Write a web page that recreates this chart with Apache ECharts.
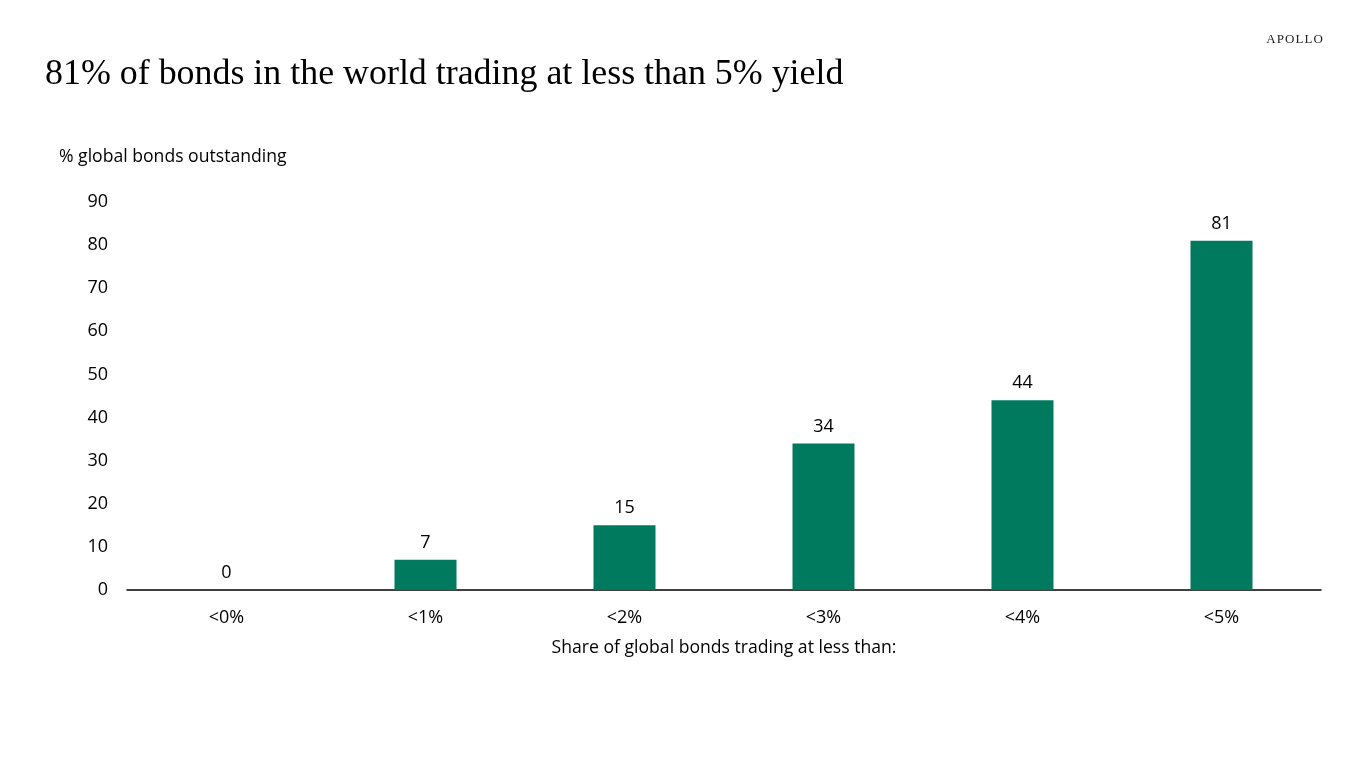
<!DOCTYPE html>
<html><head><meta charset="utf-8">
<script src="https://cdn.jsdelivr.net/npm/echarts@6/dist/echarts.min.js"></script>
<style>html,body{margin:0;padding:0;background:#fff}#c{width:1366px;height:768px}</style>
</head><body><div id="c"></div>
<script>
const categories = ['<0%', '<1%', '<2%', '<3%', '<4%', '<5%'];
const values = [0, 7, 15, 34, 44, 81];
const yTicks = { min: 0, max: 90, interval: 10 };

const chart = echarts.init(document.getElementById('c'), null, { renderer: 'canvas' });
const sans = '"Open Sans", "Noto Sans", sans-serif';
chart.setOption({
  backgroundColor: '#fff',
  animation: false,
  title: [
    { text: '81% of bonds in the world trading at less than 5% yield', left: 40, top: 52,
      textStyle: { fontFamily: '"Liberation Serif", serif', fontWeight: 'normal', fontSize: 35.9, color: '#000' } },
    { text: 'A\u200AP\u200AO\u200AL\u200AL\u200AO', right: 38, top: 28,
      textStyle: { fontFamily: '"Liberation Serif", serif', fontWeight: 'normal', fontSize: 13, color: '#222' } },
    { text: '% global bonds outstanding', left: 54, top: 143,
      textStyle: { fontFamily: sans, fontWeight: 'normal', fontSize: 17.6, color: '#000' } }
  ],
  grid: { left: 127, right: 45, top: 202, bottom: 178, containLabel: false },
  xAxis: {
    type: 'category', data: categories,
    name: 'Share of global bonds trading at less than:', nameLocation: 'middle', nameGap: 49,
    nameTextStyle: { fontFamily: sans, fontSize: 17.6, color: '#000' },
    axisLine: { lineStyle: { color: '#000', width: 1.5 } },
    axisTick: { show: false },
    axisLabel: { fontFamily: sans, fontSize: 18, color: '#000', margin: 19 }
  },
  yAxis: {
    type: 'value', min: yTicks.min, max: yTicks.max, interval: yTicks.interval,
    axisLine: { show: false }, axisTick: { show: false }, splitLine: { show: false },
    axisLabel: { fontFamily: sans, fontSize: 18, color: '#000', margin: 19 }
  },
  series: [{
    type: 'bar', data: values, barWidth: 62,
    itemStyle: { color: '#007a5e' },
    label: { show: true, position: 'top', distance: 8, fontFamily: sans, fontSize: 18, color: '#000' }
  }]
});
</script></body></html>
